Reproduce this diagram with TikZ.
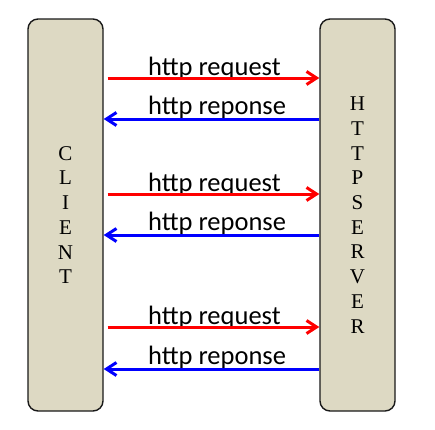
\documentclass[tikz,border=0pt]{standalone}
\usepackage{fontspec}
\setmainfont{Carlito}
\newfontfamily\boxfont{Liberation Serif}
\usetikzlibrary{arrows.meta}
\definecolor{boxtan}{HTML}{DDD9C3}

\begin{document}
\begin{tikzpicture}[x=1pt,y=-1pt,
 hostbox/.style={draw=black!90,line width=1.4pt,fill=boxtan,rounded corners=10pt,
  minimum width=75pt,minimum height=392pt,align=center,inner sep=0pt,
  font=\boxfont\fontsize{21}{24.7}\selectfont},
 msg/.style={anchor=base west,inner sep=0pt,font=\fontsize{26.5}{30}\selectfont},
 req/.style={draw=red,line width=3pt,shorten <=4pt,-{Straight Barb[length=10pt,width=13pt]}},
 resp/.style={draw=blue,line width=3pt,-{Straight Barb[length=10pt,width=13pt]}}]

\useasboundingbox (0,0) rectangle (435,429);

\node[hostbox] (client) at (65.5,215) {C\\L\\I\\E\\N\\T};
\node[hostbox] (server) at (357.5,215) {H\\T\\T\\P\\S\\E\\R\\V\\E\\R};

\foreach \n/\yq/\yr in {1/78/119,2/194/235,3/327/369} {
 \node[msg] (req\n) at (148,\yq-3) {http request};
 \node[msg] (resp\n) at (148,\yr-4.5) {http reponse};
 \draw[req] (client.east |- 0,\yq) -- (server.west |- 0,\yq);
 \draw[resp] (server.west |- 0,\yr) -- (client.east |- 0,\yr);
}

\end{tikzpicture}
\end{document}
